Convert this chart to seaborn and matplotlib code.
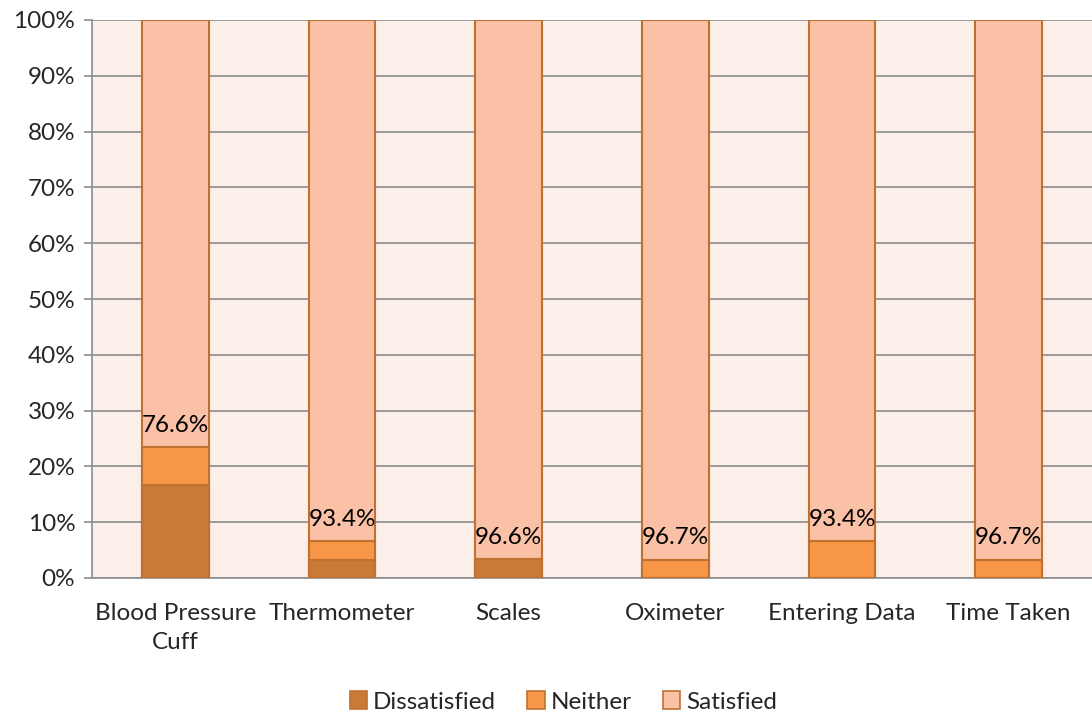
import numpy as np
import pandas as pd
import seaborn as sns
import matplotlib.pyplot as plt
from matplotlib.patches import Patch

categories = ["Blood Pressure\nCuff", "Thermometer", "Scales", "Oximeter", "Entering Data", "Time Taken"]
dissatisfied = [16.7, 3.3, 3.4, 0.0, 0.0, 0.0]
neither = [6.7, 3.3, 0.0, 3.3, 6.6, 3.3]
satisfied = [76.6, 93.4, 96.6, 96.7, 93.4, 96.7]
sat_labels = ["76.6%", "93.4%", "96.6%", "96.7%", "93.4%", "96.7%"]

c_dis = "#C97A37"
c_nei = "#F79646"
c_sat = "#FAC1A6"
c_edge = "#C0712F"

df = pd.DataFrame({"cat": categories, "dis": dissatisfied, "nei": neither, "sat": satisfied})
df["low"] = df["dis"] + df["nei"]
df["top"] = df["low"] + df["sat"]

sns.set_theme(style="white")
plt.rcParams['font.family'] = ['Lato', 'DejaVu Sans']
fs = 17.5

fig = plt.figure(figsize=(10.92, 7.12), dpi=100)
ax = fig.add_axes([92 / 1092, 1 - 578 / 712, 1 - 92 / 1092, (578 - 20) / 712])
ax.set_facecolor("#FCEEE9")

# stacked look: draw cumulative totals from the top down
common = dict(x="cat", order=categories, width=0.4, edgecolor=c_edge, linewidth=1.5, ax=ax, zorder=3)
sns.barplot(data=df, y="top", color=c_sat, saturation=1, **common)
sns.barplot(data=df, y="low", color=c_nei, saturation=1, **common)
sns.barplot(data=df, y="dis", color=c_dis, saturation=1, **common)

for i, row in df.iterrows():
    ax.text(i, row["low"] + 2.0, sat_labels[i], ha="center", va="bottom", fontsize=fs, color="black", zorder=4)

ax.set_xlim(-0.5, len(categories) - 0.5)
ax.set_ylim(0, 100)
ax.set_yticks(np.arange(0, 101, 10))
ax.set_yticklabels([f"{v}%" for v in range(0, 101, 10)], fontsize=fs)
ax.yaxis.grid(True, color="#8C8C8C", linewidth=1.2, zorder=0)
ax.set_axisbelow(True)

ax.set_xticks(range(len(categories)))
ax.set_xticklabels(categories, fontsize=fs, linespacing=1.45)
ax.set_xticks(np.arange(-0.5, len(categories) - 0.4, 1), minor=True)
ax.tick_params(axis="x", which="major", length=0, pad=18)
ax.tick_params(axis="x", which="minor", length=6, width=1.2, color="#8C8C8C", direction="out")
ax.tick_params(axis="y", length=6, width=1.2, color="#8C8C8C", direction="out", left=True, pad=6)
ax.set_xlabel("")
ax.set_ylabel("")

for s in ["top", "right"]:
    ax.spines[s].set_visible(False)
for s in ["left", "bottom"]:
    ax.spines[s].set_color("#8C8C8C")
    ax.spines[s].set_linewidth(1.2)

handles = [Patch(facecolor=c, edgecolor=c_edge, linewidth=1.2) for c in (c_dis, c_nei, c_sat)]
fig.legend(handles, ["Dissatisfied", "Neither", "Satisfied"], loc="center", bbox_to_anchor=(0.516, 1 - 702 / 712),
           ncol=3, frameon=False, fontsize=fs, handlelength=0.7, handleheight=0.7, handletextpad=0.25, columnspacing=1.3)

fig.savefig("out.png", dpi=100)
